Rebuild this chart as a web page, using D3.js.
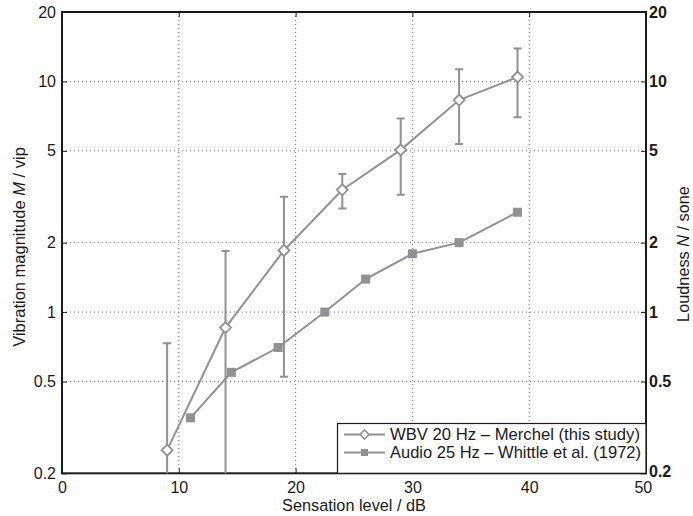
<!DOCTYPE html>
<html><head><meta charset="utf-8">
<script src="https://cdn.jsdelivr.net/npm/d3@7"></script>
<style>
body{margin:0;background:#fff;}
text{font-family:"Liberation Sans",Arial,Helvetica,sans-serif;fill:#1a1a1a;}
</style></head>
<body>
<svg id="chart" width="693" height="516"></svg>
<script>
// Data
const xTicks = [0,10,20,30,40,50];
const yTicks = [0.2,0.5,1,2,5,10,20];
const yTickLabels = ["0.2","0.5","1","2","5","10","20"];

const wbvX = [9,14,19,24,29,34,39];
const wbvY = [0.252,0.857,1.85,3.39,5.05,8.3,10.45];
const wbvLow = [0.1,0.1,0.525,2.81,3.23,5.35,7.0];
const wbvHigh = [0.733,1.84,3.16,3.97,6.9,11.3,13.9];

const audioX = [11,14.5,18.5,22.5,26,30,34,39];
const audioY = [0.348,0.548,0.702,1.0,1.39,1.79,2.0,2.71];

const legendLabels = ["WBV 20 Hz \u2013 Merchel (this study)","Audio 25 Hz \u2013 Whittle et al. (1972)"];

const svg = d3.select("#chart");
const L=62, R=646, T=12, B=473.3;
const x = d3.scaleLinear().domain([0,50]).range([L,R]);
const y = d3.scaleLog().domain([0.2,20]).range([B,T]);
const gray = "#909095";
const FS = 16;

// clip
svg.append("defs").append("clipPath").attr("id","clip")
  .append("rect").attr("x",L).attr("y",T).attr("width",R-L).attr("height",B-T);

// grid
const grid = svg.append("g");
grid.selectAll(".gx").data(xTicks.filter(d=>d>0&&d<50)).enter().append("line")
  .attr("x1",d=>x(d)).attr("x2",d=>x(d)).attr("y1",T).attr("y2",B)
  .attr("stroke","#666").attr("stroke-width",0.9).attr("stroke-dasharray","1,3");
grid.selectAll(".gy").data(yTicks.filter(d=>d>0.2&&d<20)).enter().append("line")
  .attr("y1",d=>y(d)).attr("y2",d=>y(d)).attr("x1",L).attr("x2",R)
  .attr("stroke","#666").attr("stroke-width",0.9).attr("stroke-dasharray","1,3");

// axes via d3 axes (ticks inward)
const fmt = (d)=>yTickLabels[yTicks.indexOf(d)];
const axB = svg.append("g").attr("transform",`translate(0,${B})`)
  .call(d3.axisBottom(x).tickValues(xTicks).tickSizeInner(-5).tickSizeOuter(0).tickPadding(8));
const axT = svg.append("g").attr("transform",`translate(0,${T})`)
  .call(d3.axisTop(x).tickValues(xTicks).tickSizeInner(-5).tickSizeOuter(0).tickFormat(""));
const axL = svg.append("g").attr("transform",`translate(${L},0)`)
  .call(d3.axisLeft(y).tickValues(yTicks).tickFormat(fmt).tickSizeInner(-5).tickSizeOuter(0).tickPadding(6));
const axR = svg.append("g").attr("transform",`translate(${R},0)`)
  .call(d3.axisRight(y).tickValues(yTicks).tickFormat(fmt).tickSizeInner(-5).tickSizeOuter(0).tickPadding(3));
[axB,axT,axL,axR].forEach(a=>{
  a.select(".domain").remove();
  a.selectAll(".tick line").attr("stroke","#1a1a1a").attr("stroke-width",1);
  a.selectAll("text").attr("font-size",FS).attr("font-family","Liberation Sans, Arial, sans-serif").attr("fill","#1a1a1a");
});
axR.selectAll("text").attr("font-weight","bold");
axR.selectAll(".tick").filter(d=>d===0.2).select("text").attr("dy","0.2em");
axB.selectAll(".tick").filter(d=>d===50).select("text").attr("dx","-0.2em");

// box
svg.append("rect").attr("x",L).attr("y",T).attr("width",R-L).attr("height",B-T)
  .attr("fill","none").attr("stroke","#1a1a1a").attr("stroke-width",2);

const plot = svg.append("g").attr("clip-path","url(#clip)");

// error bars
const cap = 4;
wbvX.forEach((xv,i)=>{
  const g = plot.append("g").attr("stroke",gray).attr("stroke-width",2).attr("fill","none");
  g.append("line").attr("x1",x(xv)).attr("x2",x(xv)).attr("y1",y(wbvLow[i])).attr("y2",y(wbvHigh[i]));
  g.append("line").attr("x1",x(xv)-cap).attr("x2",x(xv)+cap).attr("y1",y(wbvHigh[i])).attr("y2",y(wbvHigh[i]));
  g.append("line").attr("x1",x(xv)-cap).attr("x2",x(xv)+cap).attr("y1",y(wbvLow[i])).attr("y2",y(wbvLow[i]));
});

// lines
const line = d3.line().x(d=>x(d[0])).y(d=>y(d[1]));
const wbv = wbvX.map((d,i)=>[d,wbvY[i]]);
const aud = audioX.map((d,i)=>[d,audioY[i]]);
plot.append("path").datum(aud).attr("d",line).attr("fill","none").attr("stroke",gray).attr("stroke-width",2);
plot.append("path").datum(wbv).attr("d",line).attr("fill","none").attr("stroke",gray).attr("stroke-width",2);

const diamond = (cx,cy,s)=>`M${cx},${cy-s}L${cx+s},${cy}L${cx},${cy+s}L${cx-s},${cy}Z`;
plot.selectAll(".sq").data(aud).enter().append("rect")
  .attr("x",d=>x(d[0])-4.5).attr("y",d=>y(d[1])-4.5).attr("width",9).attr("height",9)
  .attr("fill",gray);
svg.selectAll(".dm").data(wbv).enter().append("path")
  .attr("d",d=>diamond(x(d[0]),y(d[1]),5.5))
  .attr("fill","#fff").attr("stroke",gray).attr("stroke-width",1.8);

// legend
const lg = svg.append("g");
const lx0=337.5, ly0=423.5;
lg.append("rect").attr("x",lx0).attr("y",ly0).attr("width",R-lx0).attr("height",B-ly0)
  .attr("fill","#fff").attr("stroke","#1a1a1a").attr("stroke-width",1.2);
const rows=[434.5,452.5];
rows.forEach((ry,i)=>{
  lg.append("line").attr("x1",344).attr("x2",385).attr("y1",ry).attr("y2",ry).attr("stroke",gray).attr("stroke-width",2);
  if(i===0) lg.append("path").attr("d",diamond(364.5,ry,4.5)).attr("fill","#fff").attr("stroke",gray).attr("stroke-width",1.6);
  else lg.append("rect").attr("x",361).attr("y",ry-3.5).attr("width",7).attr("height",7).attr("fill",gray);
  lg.append("text").attr("x",390).attr("y",ry).attr("dy","0.36em").attr("font-size",16.6)
    .attr("textLength",i===0?250:251).attr("lengthAdjust","spacingAndGlyphs").text(legendLabels[i]);
});

// axis labels
svg.append("text").attr("x",354).attr("y",511).attr("text-anchor","middle").attr("font-size",16.3)
  .text("Sensation level / dB");
const yl = svg.append("text").attr("transform",`translate(25,247) rotate(-90)`)
  .attr("text-anchor","middle").attr("font-size",16.5);
yl.append("tspan").text("Vibration magnitude ");
yl.append("tspan").attr("font-style","italic").text("M");
yl.append("tspan").text(" / vip");
const yr = svg.append("text").attr("transform",`translate(689,254) rotate(-90)`)
  .attr("text-anchor","middle").attr("font-size",16.3);
yr.append("tspan").text("Loudness ");
yr.append("tspan").attr("font-style","italic").text("N");
yr.append("tspan").text(" / sone");
</script>
</body></html>
